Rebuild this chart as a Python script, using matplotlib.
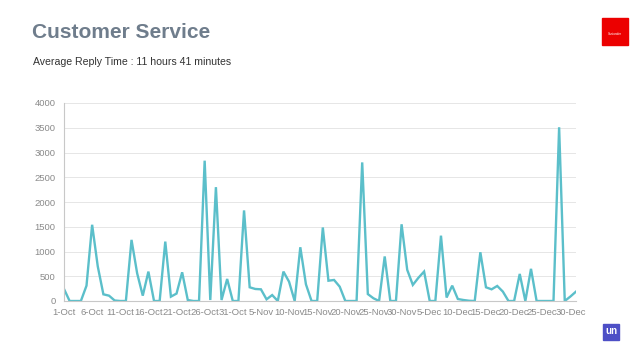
import numpy as np
import pandas as pd
import matplotlib
matplotlib.use("Agg")
import matplotlib.pyplot as plt
from matplotlib.patches import Rectangle

# daily replies, 1-Oct .. 31-Dec
days = pd.date_range("2016-10-01", "2016-12-31", freq="D")
replies = [
    243, 0, 0, 0, 310, 1540, 700, 135, 108, 10,
    0, 0, 1235, 560, 108, 594, 0, 0, 1200, 88,
    150, 580, 20, 0, 0, 2835, 20, 2300, 20, 445,
    0, 0, 1830, 277, 243, 236, 34, 120, 0, 594,
    390, 0, 1086, 337, 0, 0, 1485, 410, 425, 290,
    0, 0, 0, 2800, 140, 55, 0, 900, 0, 0,
    1550, 630, 325, 470, 595, 0, 0, 1320, 70, 310,
    40, 20, 5, 0, 985, 277, 236, 304, 190, 0,
    0, 547, 0, 650, 0, 0, 0, 0, 3510, 0,
    90, 190,
]
labels = [f"{d.day}-{d.strftime('%b')}" for d in days]

title = "Customer Service"
subtitle = "Average Reply Time : 11 hours 41 minutes"

plt.rcParams['font.family'] = ['Liberation Sans', 'DejaVu Sans']

fig = plt.figure(figsize=(6.38, 3.59), dpi=100)
ax = fig.add_axes([64 / 638, 1 - 301 / 359, 512 / 638, 198 / 359])

x = np.arange(len(replies))
ax.plot(x, replies, color='#5bbfca', linewidth=1.7, solid_joinstyle='miter')

ax.set_xlim(0, len(replies) - 1)
ax.set_ylim(0, 4000)
ax.set_yticks(np.arange(0, 4001, 500))
ax.set_xticks(x[::5])
ax.set_xticklabels(labels[::5])
ax.tick_params(axis='both', length=0, labelsize=6.8, colors='#8a8a8a')
ax.tick_params(axis='x', pad=5)
ax.tick_params(axis='y', pad=6)

ax.grid(axis='y', color='#e6e6e6', linewidth=0.7)
ax.set_axisbelow(True)
for s in ['top', 'right']:
    ax.spines[s].set_visible(False)
ax.spines['left'].set_color('#c8c8c8')
ax.spines['bottom'].set_color('#c8c8c8')
ax.spines['left'].set_linewidth(0.8)
ax.spines['bottom'].set_linewidth(0.8)

fig.text(32 / 638, 1 - 32 / 359, title, fontsize=15, fontweight='bold',
         color='#6f7d8c', va='center', ha='left')
fig.text(33 / 638, 1 - 62 / 359, subtitle, fontsize=7.6,
         color='#333333', va='center', ha='left')

# logos
fig.patches.append(Rectangle((602 / 638, 1 - 44.5 / 359), 26 / 638, 26 / 359,
                             transform=fig.transFigure, color='#ec0000'))
fig.text(615 / 638, 1 - 34 / 359, "Santander", fontsize=2.2, color='white',
         ha='center', va='center')
fig.patches.append(Rectangle((603 / 638, 1 - 339.5 / 359), 16 / 638, 15.5 / 359,
                             transform=fig.transFigure, color='#4d4fc6'))
fig.text(611 / 638, 1 - 331.5 / 359, "un", fontsize=7, fontweight='bold',
         color='white', ha='center', va='center')

fig.savefig("out.png", dpi=100)
